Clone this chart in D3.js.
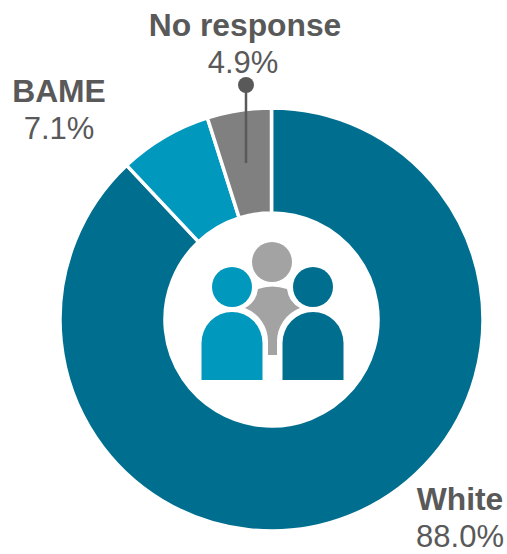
<!DOCTYPE html>
<html>
<head>
<meta charset="utf-8">
<script src="https://cdn.jsdelivr.net/npm/d3@7"></script>
<style>
html,body{margin:0;padding:0;background:#fff}
svg{display:block}
text{font-family:"Liberation Sans",Arial,sans-serif;fill:#595959;text-anchor:middle}
.name{font-weight:700}
</style>
</head>
<body>
<svg id="chart" width="507" height="554"></svg>
<script>
const categories = ["White", "BAME", "No response"];
const shares = [88.0, 7.1, 4.9];
const sliceColours = ["#006f8f", "#0098bd", "#808080"];
const labelAnchors = [[460, 510], [59, 102], [245, 36]];

const cx = 271.5, cy = 319.5, outerR = 211.5, innerR = 106.5;
const svg = d3.select("#chart");
const ring = svg.append("g").attr("transform", `translate(${cx},${cy})`);

const pie = d3.pie().sort(null).value(d => d);
const arc = d3.arc().innerRadius(innerR).outerRadius(outerR);

ring.selectAll("path")
  .data(pie(shares))
  .join("path")
  .attr("d", arc)
  .attr("fill", (d, i) => sliceColours[i])
  .attr("stroke", "#fff")
  .attr("stroke-width", 3.5);

// Leader for the smallest slice: a pin from inside the ring up to the label
const pin = svg.append("g");
pin.append("line")
  .attr("x1", 246).attr("x2", 246).attr("y1", 85).attr("y2", 163)
  .attr("stroke", "#595959").attr("stroke-width", 2.5);
pin.append("circle")
  .attr("cx", 246).attr("cy", 85).attr("r", 8).attr("fill", "#595959");

// Category name above its share
const labels = svg.append("g").selectAll("g")
  .data(categories)
  .join("g")
  .attr("transform", (d, i) => `translate(${labelAnchors[i][0]},${labelAnchors[i][1]})`);
labels.append("text").attr("class", "name").attr("font-size", 31.8).text(d => d);
labels.append("text").attr("y", 37).attr("font-size", 31)
  .attr("x", (d, i) => i === 2 ? -2 : 0)
  .text((d, i) => d3.format(".1f")(shares[i]) + "%");

// People pictogram in the hole of the ring
const people = svg.append("g");
people.append("circle").attr("cx", 272).attr("cy", 262).attr("r", 20).attr("fill", "#a3a3a3");
people.append("path")
  .attr("fill", "#a3a3a3")
  .attr("d", "M245,308 A25,25 0 0 0 258,289 Q272,284 287,289 A25,25 0 0 0 300,308 A36,36 0 0 0 277,341 L277,355 L268,355 L268,341 A36,36 0 0 0 245,308 Z");
const bodies = [[232, "#0098bd"], [313, "#006f8f"]];
bodies.forEach(([x, colour]) => {
  people.append("circle").attr("cx", x).attr("cy", 287).attr("r", 20).attr("fill", colour);
  people.append("path").attr("fill", colour)
    .attr("d", `M${x - 30.5},380 L${x - 30.5},343 A30.5,31 0 0 1 ${x + 30.5},343 L${x + 30.5},380 Z`);
});
</script>
</body>
</html>
